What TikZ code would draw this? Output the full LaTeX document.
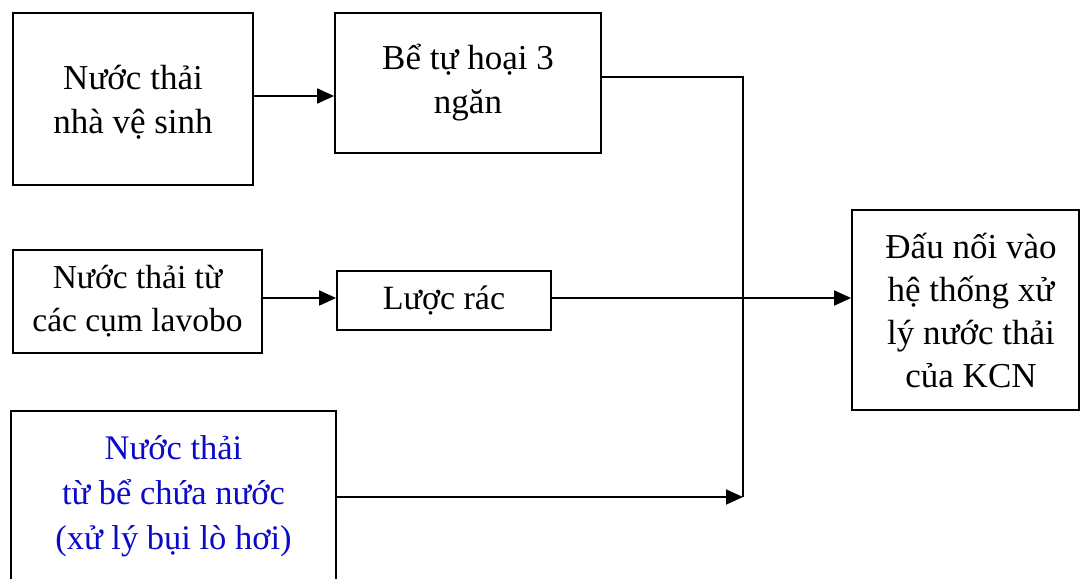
\documentclass[tikz,border=0pt]{standalone}
\usepackage{fontspec}
\setmainfont{Liberation Serif}
\usetikzlibrary{arrows.meta}
\definecolor{txtblue}{RGB}{10,10,200}
\begin{document}
\begin{tikzpicture}[x=1pt,y=-1pt,
  box/.style={draw, line width=1.8pt, inner sep=0pt, align=center,
    font=\fontsize{35}{44}\selectfont},
  txt/.style={inner sep=0pt, align=center, font=\fontsize{35}{44}\selectfont},
  lnk/.style={line width=1.8pt},
  arr/.style={line width=1.8pt, -{Triangle[length=17pt,width=15pt]}}]
\clip (0,0) rectangle (1081,578);
\fill[white] (0,0) rectangle (1081,578);
\node[box, minimum width=240, minimum height=172] (n1) at (133,99) {};
\node[txt] (t1) at (133,102) {Nước thải\\nhà vệ sinh};
\node[box, minimum width=266, minimum height=140] (n2) at (468,83) {Bể tự hoại 3\\ngăn};
\node[box, font=\fontsize{33.5}{43}\selectfont, minimum width=249, minimum height=103] (n3) at (137.5,301.5) {Nước thải từ\\các cụm lavobo};
\node[box, font=\fontsize{34}{43}\selectfont, minimum width=214, minimum height=59] (n4) at (444,300.5) {Lược rác};
\node[box, minimum width=227, minimum height=200] (n5) at (965.5,310) {};
\node[txt, font=\fontsize{35}{43}\selectfont] (t5) at (971,310) {Đấu nối vào\\hệ thống xử\\lý nước thải\\của KCN};
\node[box, text=txtblue, font=\fontsize{34.5}{45}\selectfont, minimum width=325, minimum height=170] (n6) at (173.5,496) {Nước thải\\từ bể chứa nước\\(xử lý bụi lò hơi)};
\coordinate (jt) at (743,77);
\coordinate (jb) at (743,497);
\draw[arr] (n1.east |- 0,96) -- (n2.west |- 0,96);
\draw[arr] (n3.east |- 0,298) -- (n4.west |- 0,298);
\draw[arr] (n4.east |- 0,298) -- (n5.west |- 0,298);
\draw[lnk] (n2.east |- jt) -- (jt) -- (jb);
\draw[arr] (n6.east |- jb) -- (jb);
\end{tikzpicture}
\end{document}
